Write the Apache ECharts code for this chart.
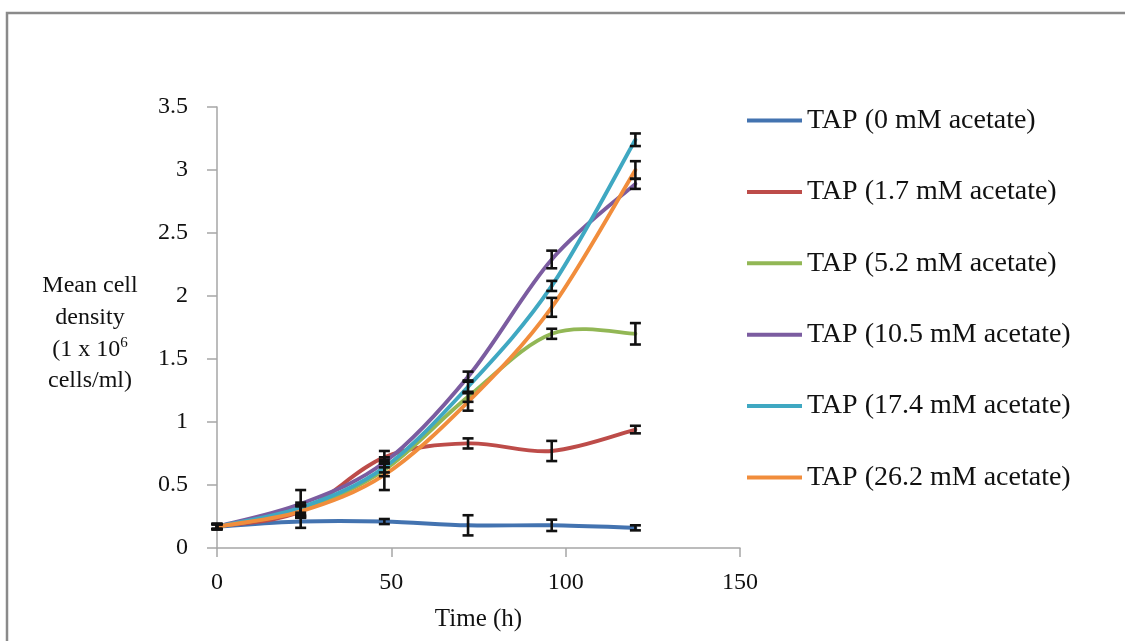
<!DOCTYPE html>
<html>
<head>
<meta charset="utf-8">
<script src="https://cdn.jsdelivr.net/npm/echarts@6/dist/echarts.min.js"></script>
<style>
  html, body { margin: 0; padding: 0; background: #ffffff; overflow: hidden; }
  #chart { width: 1125px; height: 641px; }
</style>
</head>
<body>
<div id="chart"></div>
<script>
// Sampling times (h)
const hours = [0, 24, 48, 72, 96, 120];

// Culture conditions
const seriesNames = [
  'TAP (0 mM acetate)',
  'TAP (1.7 mM acetate)',
  'TAP (5.2 mM acetate)',
  'TAP (10.5 mM acetate)',
  'TAP (17.4 mM acetate)',
  'TAP (26.2 mM acetate)'
];
const seriesColors = ['#4373b0', '#bd4c49', '#92b755', '#7b5ca0', '#3fa8c2', '#f18d3c'];

// Mean cell density (x 10^6 cells/ml)
const acetate0    = [0.17, 0.21, 0.21, 0.18, 0.18, 0.16];
const acetate1_7  = [0.17, 0.29, 0.72, 0.83, 0.77, 0.94];
const acetate5_2  = [0.17, 0.30, 0.62, 1.20, 1.70, 1.70];
const acetate10_5 = [0.17, 0.35, 0.68, 1.36, 2.29, 2.89];
const acetate17_4 = [0.17, 0.32, 0.64, 1.28, 2.08, 3.24];
const acetate26_2 = [0.17, 0.29, 0.58, 1.16, 1.91, 3.00];

// Error (± half-range)
const err0    = [0.02, 0.05, 0.02, 0.08, 0.045, 0.02];
const err1_7  = [0.02, 0.05, 0.05, 0.04, 0.08, 0.03];
const err5_2  = [0.02, 0.04, 0.05, 0.04, 0.04, 0.085];
const err10_5 = [0.02, 0.11, 0.04, 0.04, 0.07, 0.04];
const err17_4 = [0.02, 0.04, 0.04, 0.05, 0.04, 0.05];
const err26_2 = [0.02, 0.04, 0.12, 0.07, 0.075, 0.07];

// Axis ticks
const xTicks = { min: 0, max: 150, interval: 50 };
const yTicks = { min: 0, max: 3.5, interval: 0.5 };

const means = [acetate0, acetate1_7, acetate5_2, acetate10_5, acetate17_4, acetate26_2];
const errors = [err0, err1_7, err5_2, err10_5, err17_4, err26_2];

const serif = '"Liberation Serif", "Times New Roman", serif';
const axisGray = '#a6a6a6';

// Smoothed line: each data item draws the cubic segment to the next point,
// with Catmull-Rom style tangents taken from the neighbouring points.
function smoothSegment(color) {
  return function (params, api) {
    const i = params.dataIndexInside;
    const n = params.dataInsideLength;
    if (i >= n - 1) return null;
    const pt = (k) => {
      const j = Math.max(0, Math.min(n - 1, k));
      return api.coord([api.value(0, j), api.value(1, j)]);
    };
    const p0 = pt(i - 1), p1 = pt(i), p2 = pt(i + 1), p3 = pt(i + 2);
    const t = 1 / 6;
    const c1 = [p1[0] + (p2[0] - p0[0]) * t, p1[1] + (p2[1] - p0[1]) * t];
    const c2 = [p2[0] - (p3[0] - p1[0]) * t, p2[1] - (p3[1] - p1[1]) * t];
    return {
      type: 'bezierCurve',
      shape: { x1: p1[0], y1: p1[1], cpx1: c1[0], cpy1: c1[1], cpx2: c2[0], cpy2: c2[1], x2: p2[0], y2: p2[1] },
      style: { stroke: color, lineWidth: 3.9, fill: 'none', lineCap: 'round' }
    };
  };
}

const lineSeries = means.map((vals, s) => ({
  name: seriesNames[s],
  type: 'custom',
  data: hours.map((h, i) => [h, vals[i]]),
  encode: { x: 0, y: 1 },
  itemStyle: { color: seriesColors[s] },
  renderItem: smoothSegment(seriesColors[s]),
  z: 2 + s
}));

const errorData = [];
means.forEach((vals, s) => {
  hours.forEach((h, i) => {
    errorData.push([h, vals[i] - errors[s][i], vals[i] + errors[s][i]]);
  });
});

// Vertical error bars with caps, positioned through the axis scales
const errorSeries = {
  name: 'error',
  type: 'custom',
  data: errorData,
  encode: { x: 0, y: [1, 2] },
  z: 20,
  silent: true,
  renderItem: function (params, api) {
    const x = api.value(0);
    const top = api.coord([x, api.value(2)]);
    const bot = api.coord([x, api.value(1)]);
    const hw = 5.5;
    const st = { stroke: '#111111', lineWidth: 2.6 };
    return {
      type: 'group',
      children: [
        { type: 'line', shape: { x1: top[0], y1: top[1], x2: bot[0], y2: bot[1] }, style: st },
        { type: 'line', shape: { x1: top[0] - hw, y1: top[1], x2: top[0] + hw, y2: top[1] }, style: st },
        { type: 'line', shape: { x1: bot[0] - hw, y1: bot[1], x2: bot[0] + hw, y2: bot[1] }, style: st }
      ]
    };
  }
};

const chart = echarts.init(document.getElementById('chart'), null, { renderer: 'canvas' });
chart.setOption({
  animation: false,
  backgroundColor: '#ffffff',
  color: seriesColors,
  graphic: [{
    type: 'rect',
    shape: { x: 7, y: 13, width: 1300, height: 800 },
    style: { fill: 'none', stroke: '#8a8a8a', lineWidth: 2.5 },
    silent: true,
    z: 0
  }],
  grid: { left: 217, top: 107, width: 523, height: 441, containLabel: false },
  legend: {
    orient: 'vertical',
    left: 747,
    top: 105.5,
    padding: 0,
    data: seriesNames,
    icon: 'rect',
    itemWidth: 55,
    itemHeight: 4,
    itemGap: 41.4,
    textStyle: { fontFamily: serif, fontSize: 28, color: '#111111', lineHeight: 30 }
  },
  xAxis: {
    type: 'value',
    min: xTicks.min, max: xTicks.max, interval: xTicks.interval,
    name: 'Time (h)',
    nameLocation: 'middle',
    nameGap: 59,
    nameTextStyle: { fontFamily: serif, fontSize: 25, color: '#111111' },
    axisLine: { show: true, onZero: false, lineStyle: { color: axisGray, width: 1.5 } },
    axisTick: { show: true, length: 9, lineStyle: { color: axisGray, width: 1.5 } },
    axisLabel: { margin: 23, fontFamily: serif, fontSize: 24, color: '#111111' },
    splitLine: { show: false }
  },
  yAxis: {
    type: 'value',
    min: yTicks.min, max: yTicks.max, interval: yTicks.interval,
    name: 'Mean cell\ndensity\n(1 x 10{s|6}\ncells/ml)',
    nameLocation: 'middle',
    nameRotate: 0,
    nameGap: 127,
    nameTextStyle: {
      fontFamily: serif, fontSize: 24, color: '#111111', lineHeight: 31.7,
      align: 'center', verticalAlign: 'middle', padding: [12, 0, 0, 0],
      rich: { s: { fontFamily: serif, fontSize: 15, color: '#111111', padding: [0, 0, 12, 0] } }
    },
    axisLine: { show: true, onZero: false, lineStyle: { color: axisGray, width: 1.5 } },
    axisTick: { show: true, length: 10, lineStyle: { color: axisGray, width: 1.5 } },
    axisLabel: { margin: 29, fontFamily: serif, fontSize: 24, color: '#111111' },
    splitLine: { show: false }
  },
  series: lineSeries.concat([errorSeries])
});
</script>
</body>
</html>
